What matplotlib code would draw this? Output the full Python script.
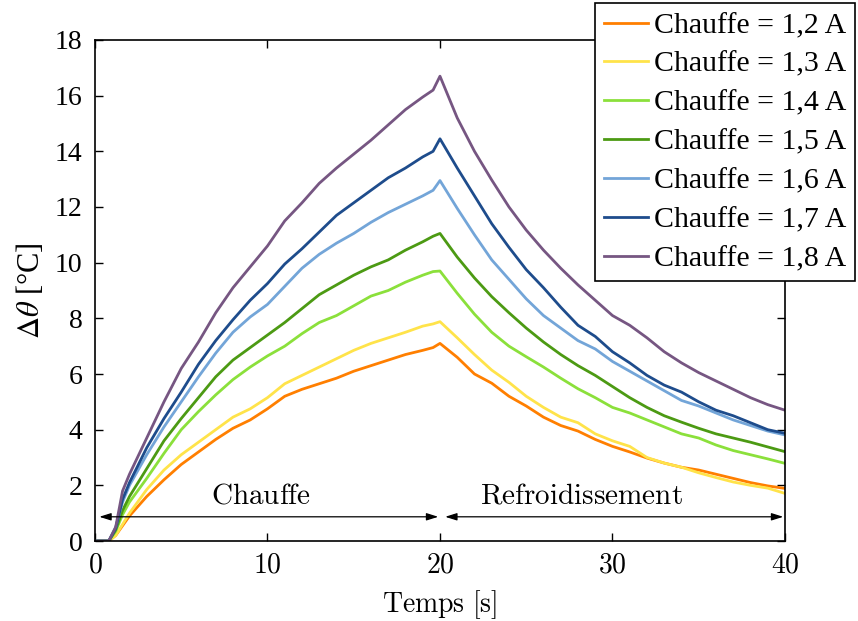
import matplotlib
matplotlib.use('Agg')
import matplotlib.pyplot as plt

plt.rcParams['font.family'] = ['Liberation Serif', 'DejaVu Serif']
plt.rcParams['mathtext.fontset'] = 'cm'

# time axis [s]
t = [0, 0.8, 1.2, 1.6, 2, 3, 4, 5, 6, 7, 8, 9, 10, 11, 12, 13, 14, 15, 16, 17, 18, 19, 19.6,
     20, 21, 22, 23, 24, 25, 26, 27, 28, 29, 30, 31, 32, 33, 34, 35, 36, 37, 38, 39, 40]

# delta theta [degC] for each heating current
d12 = [0, 0, 0.2, 0.55, 0.9, 1.6, 2.2, 2.75, 3.2, 3.65, 4.05, 4.35, 4.75, 5.2, 5.45, 5.65, 5.85, 6.1, 6.3, 6.5, 6.7, 6.85, 6.95,
       7.1, 6.6, 6.0, 5.67, 5.2, 4.85, 4.45, 4.15, 3.95, 3.65, 3.4, 3.2, 2.98, 2.8, 2.65, 2.55, 2.4, 2.25, 2.1, 1.98, 1.89]
d13 = [0, 0, 0.2, 0.6, 1.0, 1.85, 2.55, 3.1, 3.55, 4.0, 4.45, 4.75, 5.15, 5.65, 5.95, 6.25, 6.55, 6.85, 7.1, 7.3, 7.5, 7.72, 7.8,
       7.88, 7.3, 6.7, 6.14, 5.7, 5.2, 4.8, 4.45, 4.25, 3.85, 3.6, 3.4, 3.0, 2.8, 2.65, 2.45, 2.28, 2.12, 2.0, 1.9, 1.71]
d14 = [0, 0, 0.35, 0.95, 1.4, 2.25, 3.15, 4.0, 4.65, 5.25, 5.8, 6.25, 6.65, 7.0, 7.45, 7.85, 8.1, 8.45, 8.8, 9.0, 9.3, 9.55, 9.68,
       9.7, 8.9, 8.15, 7.5, 7.0, 6.62, 6.25, 5.85, 5.47, 5.15, 4.8, 4.6, 4.35, 4.1, 3.85, 3.7, 3.45, 3.25, 3.1, 2.95, 2.79]
d15 = [0, 0, 0.4, 1.1, 1.6, 2.6, 3.6, 4.4, 5.15, 5.9, 6.5, 6.95, 7.4, 7.85, 8.35, 8.85, 9.2, 9.55, 9.85, 10.1, 10.45, 10.75, 10.95,
       11.05, 10.2, 9.45, 8.78, 8.2, 7.65, 7.15, 6.7, 6.3, 5.95, 5.55, 5.15, 4.8, 4.5, 4.27, 4.05, 3.85, 3.7, 3.55, 3.38, 3.21]
d16 = [0, 0, 0.5, 1.4, 2.0, 3.1, 4.1, 5.0, 5.9, 6.75, 7.5, 8.05, 8.5, 9.15, 9.8, 10.3, 10.7, 11.05, 11.45, 11.8, 12.1, 12.4, 12.6,
       12.95, 11.95, 11.0, 10.1, 9.4, 8.7, 8.1, 7.65, 7.2, 6.9, 6.45, 6.1, 5.75, 5.4, 5.05, 4.85, 4.6, 4.35, 4.15, 3.95, 3.81]
d17 = [0, 0, 0.45, 1.5, 2.1, 3.35, 4.4, 5.35, 6.35, 7.2, 7.95, 8.65, 9.25, 9.95, 10.5, 11.1, 11.7, 12.15, 12.6, 13.05, 13.4, 13.8, 14.0,
       14.45, 13.4, 12.4, 11.4, 10.55, 9.75, 9.1, 8.4, 7.75, 7.35, 6.8, 6.4, 5.95, 5.6, 5.35, 5.0, 4.7, 4.5, 4.25, 4.0, 3.87]
d18 = [0, 0, 0.5, 1.8, 2.4, 3.7, 5.0, 6.2, 7.15, 8.2, 9.1, 9.85, 10.6, 11.5, 12.15, 12.85, 13.4, 13.9, 14.4, 14.95, 15.5, 15.95, 16.2,
       16.7, 15.2, 14.0, 12.97, 12.0, 11.17, 10.45, 9.8, 9.2, 8.65, 8.1, 7.75, 7.3, 6.8, 6.4, 6.05, 5.75, 5.45, 5.15, 4.9, 4.7]

series = [d12, d13, d14, d15, d16, d17, d18]
labels = ['Chauffe = 1,2 A', 'Chauffe = 1,3 A', 'Chauffe = 1,4 A', 'Chauffe = 1,5 A',
          'Chauffe = 1,6 A', 'Chauffe = 1,7 A', 'Chauffe = 1,8 A']
colors = ['#ff7f00', '#ffe34a', '#8be03b', '#4c9a13', '#73a5d8', '#1e4c8c', '#765682']

fig = plt.figure(figsize=(8.58, 6.21), dpi=100)
ax = fig.add_axes([0.1107, 0.1288, 0.8042, 0.8068])

for y, lab, c in zip(series, labels, colors):
    ax.plot(t, y, color=c, lw=2.0, label=lab)

ax.set_xlim(0, 40)
ax.set_ylim(0, 18)
ax.set_xticks([0, 10, 20, 30, 40])
ax.set_xticklabels(['$0$', '$10$', '$20$', '$30$', '$40$'])
ax.set_yticks(range(0, 19, 2))
ax.tick_params(direction='in', top=True, right=True, length=6, width=1,
               labelsize=20, pad=9)
for s in ax.spines.values():
    s.set_linewidth(1.2)

ax.set_xlabel(r'$\mathrm{Temps\ [s]}$', fontsize=20, labelpad=7)
ax.set_ylabel(r'$\Delta\theta$ [°C]', fontsize=22, math_fontfamily='stix', labelpad=6)

# phase arrows
ax.annotate('', xy=(0.25, 0.87), xytext=(19.9, 0.87),
            arrowprops=dict(arrowstyle='<|-|>,head_length=0.7,head_width=0.22', lw=0.9, color='black',
                            shrinkA=0, shrinkB=0))
ax.annotate('', xy=(20.3, 0.87), xytext=(39.9, 0.87),
            arrowprops=dict(arrowstyle='<|-|>,head_length=0.7,head_width=0.22', lw=0.9, color='black',
                            shrinkA=0, shrinkB=0))
ax.text(9.6, 1.6, r'$\mathrm{Chauffe}$', ha='center', va='center', fontsize=21)
ax.text(28.2, 1.6, r'$\mathrm{Refroidissement}$', ha='center', va='center', fontsize=21)

leg = ax.legend(loc='upper right', bbox_to_anchor=(0.9965, 0.995), bbox_transform=fig.transFigure,
                fontsize=21.5, frameon=True, fancybox=False, framealpha=1, edgecolor='black',
                handlelength=1.45, handletextpad=0.2, labelspacing=0.4, borderpad=0.3,
                borderaxespad=0)
leg.get_frame().set_linewidth(1.2)

fig.savefig('out.png', dpi=100)
